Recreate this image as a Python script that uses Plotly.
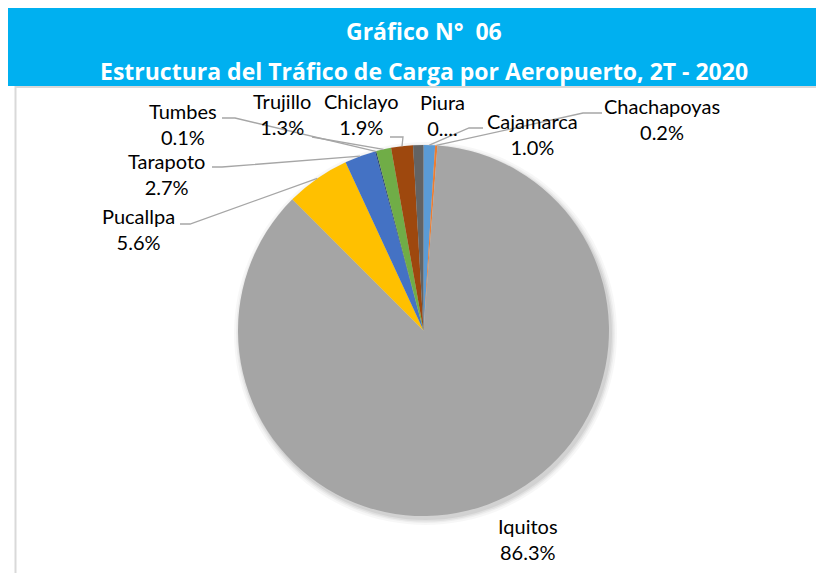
import math
import plotly.graph_objects as go

# The page body adds an 8px margin, so the figure is drawn 8px in and
# 8px down; page coordinates below are shifted back by OFF.
OFF = 8
W, H = 824 - OFF, 573 - OFF

# Data
aeropuertos = ["Cajamarca", "Chachapoyas", "Iquitos", "Pucallpa", "Tarapoto",
               "Tumbes", "Trujillo", "Chiclayo", "Piura"]
participacion = [1.0, 0.2, 86.3, 5.6, 2.7, 0.1, 1.3, 1.9, 0.9]
etiquetas_pct = ["1.0%", "0.2%", "86.3%", "5.6%", "2.7%", "0.1%", "1.3%", "1.9%", "0...."]
colores = ["#5B9BD5", "#ED7D31", "#A5A5A5", "#FFC000", "#4472C4",
           "#264478", "#70AD47", "#9E480E", "#636363"]

titulo_1 = "Gráfico N°  06"
titulo_2 = "Estructura del Tráfico de Carga por Aeropuerto, 2T - 2020"

# Pie geometry (page pixels)
CX, CY, R = 423.5, 330.5, 185.5

# Label centre and leader-line start points (page pixels)
label_layout = {
    "Cajamarca": ((532, 134), [(483, 128), (469, 128)]),
    "Chachapoyas": ((662, 119), [(602, 113), (583, 113)]),
    "Iquitos": ((528, 539), None),
    "Pucallpa": ((138, 229), [(180, 224), (190, 224)]),
    "Tarapoto": ((166, 174), [(212, 167), (222, 167)]),
    "Tumbes": ((183, 124), [(222, 118), (235, 118)]),
    "Trujillo": ((282, 114), [(312, 137)]),
    "Chiclayo": ((361, 114), [(390, 137), (403, 137)]),
    "Piura": ((442, 115), None),
}


def px(x):
    return (x - OFF) / W


def py(y):
    return 1 - (y - OFF) / H


fig = go.Figure()

fig.add_trace(go.Pie(
    labels=aeropuertos,
    values=participacion,
    sort=False,
    direction="clockwise",
    rotation=0,
    marker=dict(colors=colores, line=dict(width=0)),
    textinfo="none",
    showlegend=False,
    domain=dict(x=[px(CX - R), px(CX + R)], y=[py(CY + R), py(CY - R)]),
))

shapes = []

# title band
shapes.append(dict(type="rect", xref="paper", yref="paper",
                   x0=px(8), x1=1.0, y0=py(86), y1=1.0,
                   fillcolor="#00B0F0", line=dict(width=0), layer="below"))
# chart frame
shapes.append(dict(type="rect", xref="paper", yref="paper",
                   x0=px(15.5), x1=1.05, y0=-0.05, y1=py(87),
                   fillcolor="rgba(0,0,0,0)", line=dict(color="#D9D9D9", width=2),
                   layer="below"))
# soft shadow behind the pie
for k, a in [(6, 0.03), (4, 0.04), (2.5, 0.05), (1, 0.06)]:
    shapes.append(dict(type="circle", xref="paper", yref="paper",
                       x0=px(CX + 2 - R - k), x1=px(CX + 2 + R + k),
                       y0=py(CY + 3 + R + k), y1=py(CY + 3 - R - k),
                       fillcolor=f"rgba(0,0,0,{a})", line=dict(width=0),
                       layer="below"))

annotations = []
total = sum(participacion)
acum = 0.0
for name, val, pct in zip(aeropuertos, participacion, etiquetas_pct):
    mid = (acum + val / 2) / total
    acum += val
    theta = 2 * math.pi * mid
    ex = CX + R * math.sin(theta)
    ey = CY - R * math.cos(theta)

    (lx, ly), leader = label_layout[name]
    annotations.append(dict(
        x=px(lx), y=py(ly), xref="paper", yref="paper",
        text=f"{name}<br>{pct}", showarrow=False,
        xanchor="center", yanchor="middle", align="center",
        font=dict(family="Lato", size=20, color="#000000"),
    ))
    if leader:
        pts = leader + [(ex, ey)]
        path = "M " + " L ".join(f"{px(x):.5f},{py(y):.5f}" for x, y in pts)
        shapes.append(dict(type="path", xref="paper", yref="paper", path=path,
                           line=dict(color="#A6A6A6", width=1.3)))

annotations.append(dict(x=px(424), y=py(31), xref="paper", yref="paper",
                        text=f"<b>{titulo_1}</b>", showarrow=False,
                        xanchor="center", yanchor="middle",
                        font=dict(family="Open Sans", size=23, color="white")))
annotations.append(dict(x=px(424), y=py(71), xref="paper", yref="paper",
                        text=f"<b>{titulo_2}</b>", showarrow=False,
                        xanchor="center", yanchor="middle",
                        font=dict(family="Open Sans", size=23, color="white")))

fig.update_layout(
    width=W, height=H,
    margin=dict(l=0, r=0, t=0, b=0),
    paper_bgcolor="white",
    plot_bgcolor="white",
    shapes=shapes,
    annotations=annotations,
)

fig.write_html("out.html")
